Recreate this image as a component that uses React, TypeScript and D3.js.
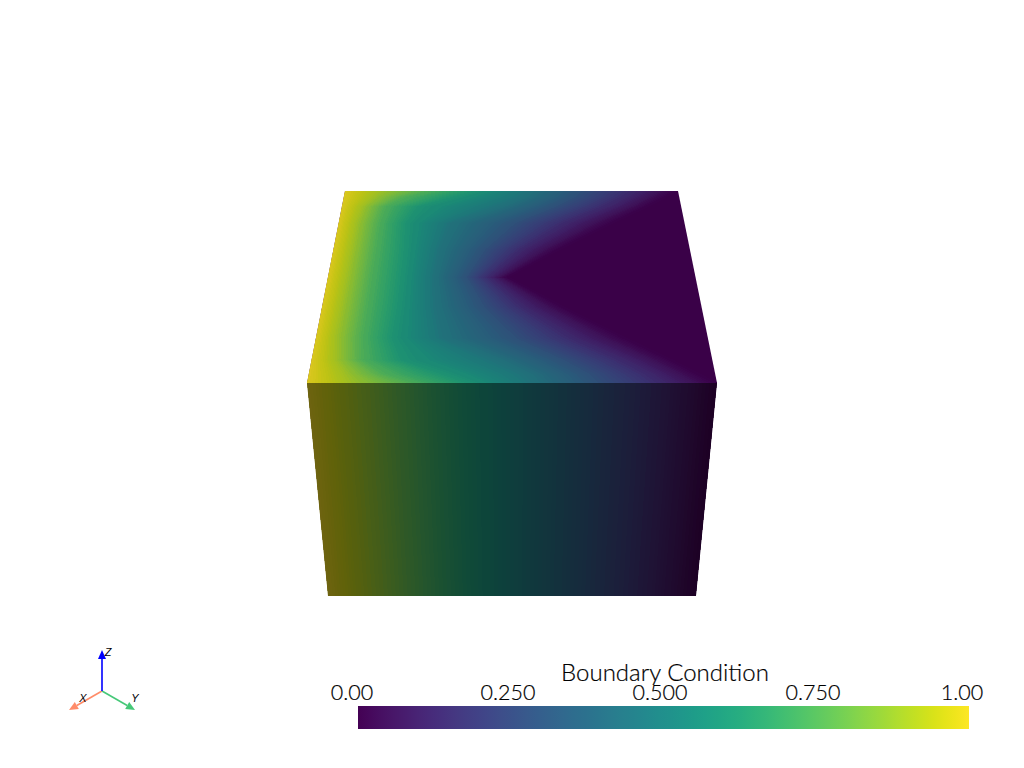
import React from "react";
import * as d3 from "d3";

// Value levels of the top face, and the position across the face (0 = left, 1 = right)
// where each level is reached on each row from back (0) to front (1).
const levels = [1, 0.9, 0.75, 0.6, 0.45, 0.3, 0.12, 0];
const vRows = [0, 0.04, 0.1, 0.2, 0.35, 0.5, 0.65, 0.8, 0.9, 0.96, 1];
const levelPositions = [
  [0, 0.1, 0.25, 0.4, 0.55, 0.7, 0.88, 1],
  [0, 0.085, 0.18, 0.335, 0.53, 0.68, 0.85, 0.96],
  [0, 0.06, 0.125, 0.23, 0.46, 0.62, 0.79, 0.9],
  [0, 0.05, 0.115, 0.2, 0.325, 0.5, 0.67, 0.79],
  [0, 0.05, 0.115, 0.205, 0.3, 0.42, 0.54, 0.635],
  [0, 0.05, 0.115, 0.205, 0.29, 0.375, 0.445, 0.49],
  [0, 0.05, 0.115, 0.205, 0.3, 0.42, 0.54, 0.635],
  [0, 0.05, 0.115, 0.2, 0.325, 0.5, 0.67, 0.79],
  [0, 0.06, 0.125, 0.23, 0.46, 0.62, 0.79, 0.9],
  [0, 0.085, 0.18, 0.335, 0.53, 0.68, 0.85, 0.96],
  [0, 0.1, 0.25, 0.4, 0.55, 0.7, 0.88, 1],
];
const frontLevelPositions = [0, 0.1, 0.25, 0.4, 0.55, 0.7, 0.88, 1];
const barTicks = [0, 0.25, 0.5, 0.75, 1];
const barTickLabels = ["0.00", "0.250", "0.500", "0.750", "1.00"];
const barTickCentres = [352, 508, 660, 813, 962];
const barTitle = "Boundary Condition";
const axisTips = [
  { name: "X", color: "#ff8c69", tip: [69, 710], label: [83, 698] },
  { name: "Y", color: "#46c878", tip: [135, 710], label: [135, 698] },
  { name: "Z", color: "#0000ff", tip: [102, 650], label: [108, 652] },
];

const FONT = "Lato, 'Open Sans', sans-serif";
const topShade = 0.86;
const frontShade = 0.43;

const topWidth = 333, bottomWidth = 410;
const depth = (v: number) => {
  const w = 1 / ((1 - v) / topWidth + v / bottomWidth);
  return (w - topWidth) / (bottomWidth - topWidth);
};
const tY = d3.scaleLinear().domain([0, 1]).range([191, 383]);
const tL = d3.scaleLinear().domain([0, 1]).range([345, 307]);
const tR = d3.scaleLinear().domain([0, 1]).range([678, 717]);
const project = (u: number, v: number): [number, number] => {
  const t = depth(v);
  return [tL(t) + u * (tR(t) - tL(t)), tY(t)];
};

const sY = d3.scaleLinear().domain([0, 1]).range([383, 596]);
const sL = d3.scaleLinear().domain([0, 1]).range([307, 328]);
const sR = d3.scaleLinear().domain([0, 1]).range([717, 696]);
const projectFront = (u: number, s: number): [number, number] => [
  sL(s) + u * (sR(s) - sL(s)),
  sY(s),
];

const shade = (value: number, k: number) => {
  const c = d3.rgb(d3.interpolateViridis(value));
  return `rgb(${Math.round(c.r * k)},${Math.round(c.g * k)},${Math.round(c.b * k)})`;
};

const poly = (pts: [number, number][]) =>
  pts.map((p) => `${p[0].toFixed(2)},${p[1].toFixed(2)}`).join(" ");

type Cell = { points: string; fill: string };
const SUB = 14;
const ROW_SUB = 6;

function buildTop(): Cell[] {
  const out: Cell[] = [];
  for (let b = 0; b < levels.length - 1; b++) {
    for (let s = 0; s < SUB; s++) {
      const fa = s / SUB, fb = (s + 1) / SUB, fm = (s + 0.5) / SUB;
      const fill = shade(levels[b] + (levels[b + 1] - levels[b]) * fm, topShade);
      const pos = (r: number, f: number) =>
        levelPositions[r][b] + (levelPositions[r][b + 1] - levelPositions[r][b]) * f;
      for (let r = 0; r < vRows.length - 1; r++) {
        const pts: [number, number][] = [];
        const back: [number, number][] = [];
        for (let i = 0; i <= ROW_SUB; i++) {
          const g = i / ROW_SUB;
          const v = vRows[r] + (vRows[r + 1] - vRows[r]) * g;
          pts.push(project(pos(r, fa) * (1 - g) + pos(r + 1, fa) * g, v));
          back.push(project(pos(r, fb) * (1 - g) + pos(r + 1, fb) * g, v));
        }
        out.push({ points: poly([...pts, ...back.reverse()]), fill });
      }
    }
  }
  return out;
}

function buildFront(): Cell[] {
  const out: Cell[] = [];
  for (let b = 0; b < levels.length - 1; b++) {
    for (let s = 0; s < SUB; s++) {
      const fa = s / SUB, fb = (s + 1) / SUB, fm = (s + 0.5) / SUB;
      const u0 = frontLevelPositions[b] + (frontLevelPositions[b + 1] - frontLevelPositions[b]) * fa;
      const u1 = frontLevelPositions[b] + (frontLevelPositions[b + 1] - frontLevelPositions[b]) * fb;
      out.push({
        points: poly([projectFront(u0, 0), projectFront(u1, 0), projectFront(u1, 1), projectFront(u0, 1)]),
        fill: shade(levels[b] + (levels[b + 1] - levels[b]) * fm, frontShade),
      });
    }
  }
  return out;
}

const barX = d3.scaleLinear().domain([0, 1]).range([358, 969]);
const barStops = d3.range(0, 256, 5).map((i) => i / 255);

export default function App() {
  const top = buildTop();
  const front = buildFront();
  const topClip = poly([project(0, 0), project(1, 0), project(1, 1), project(0, 1)]);
  const frontClip = poly([projectFront(0, 0), projectFront(1, 0), projectFront(1, 1), projectFront(0, 1)]);
  const origin = [102, 691];
  return (
    <svg width={1024} height={768} style={{ position: "absolute", left: 0, top: 0, background: "#fff" }}>
      <defs>
        <clipPath id="topClip"><polygon points={topClip} /></clipPath>
        <clipPath id="frontClip"><polygon points={frontClip} /></clipPath>
        <linearGradient id="viridisBar" x1="0" x2="1" y1="0" y2="0">
          {barStops.map((s) => (
            <stop key={s} offset={s} stopColor={d3.interpolateViridis(s)} />
          ))}
        </linearGradient>
      </defs>
      <polygon points={topClip} fill={shade(levels[levels.length - 1], topShade)} />
      <g clipPath="url(#topClip)" shapeRendering="crispEdges">
        {top.map((c, i) => (
          <polygon key={i} points={c.points} fill={c.fill} stroke={c.fill} strokeWidth={1} />
        ))}
      </g>
      <g clipPath="url(#frontClip)" shapeRendering="crispEdges">
        {front.map((c, i) => (
          <polygon key={i} points={c.points} fill={c.fill} stroke={c.fill} strokeWidth={1} />
        ))}
      </g>

      <rect x={barX(0)} y={706} width={barX(1) - barX(0)} height={23} fill="url(#viridisBar)" />
      <text x={665} y={681} textAnchor="middle" fontFamily={FONT} fontWeight={300} fontSize={24} fill="#000" stroke="#000" strokeWidth={0.2}>
        {barTitle}
      </text>
      {barTicks.map((t, i) => (
        <text
          key={t}
          x={barTickCentres[i]}
          y={700}
          textAnchor="middle"
          fontFamily={FONT}
          fontWeight={300}
          fontSize={21.5}
          fill="#000"
          stroke="#000"
          strokeWidth={0.2}
        >
          {barTickLabels[i]}
        </text>
      ))}

      {axisTips.map((a) => {
        const dx = a.tip[0] - origin[0], dy = a.tip[1] - origin[1];
        const len = Math.hypot(dx, dy);
        const ux = dx / len, uy = dy / len;
        const hl = 9, hw = 4;
        const bx = a.tip[0] - ux * hl, by = a.tip[1] - uy * hl;
        return (
          <g key={a.name}>
            <line x1={origin[0]} y1={origin[1]} x2={bx} y2={by} stroke={a.color} strokeWidth={1.6} />
            <polygon
              points={poly([
                [a.tip[0], a.tip[1]],
                [bx - uy * hw, by + ux * hw],
                [bx + uy * hw, by - ux * hw],
              ])}
              fill={a.color}
            />
            <text
              x={a.label[0]}
              y={a.label[1] + 4}
              textAnchor="middle"
              fontFamily="'Liberation Sans', sans-serif"
              fontStyle="italic"
              fontSize={11}
              fill="#000"
            >
              {a.name}
            </text>
          </g>
        );
      })}
    </svg>
  );
}
